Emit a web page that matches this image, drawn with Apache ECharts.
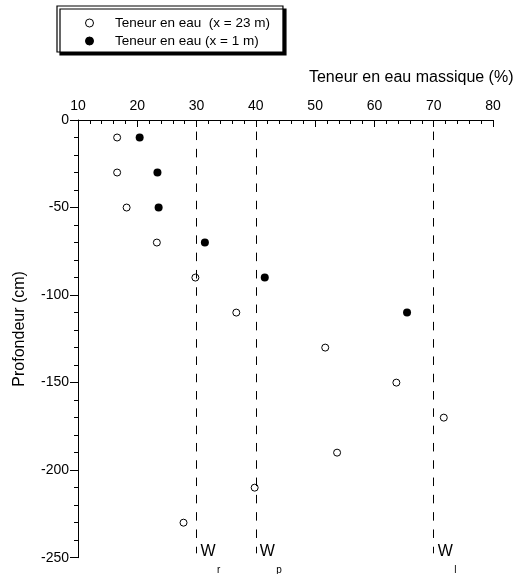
<!DOCTYPE html>
<html>
<head>
<meta charset="utf-8">
<script src="https://cdn.jsdelivr.net/npm/echarts@6/dist/echarts.min.js"></script>
<style>
  html, body { margin: 0; padding: 0; background: #fff; }
  #chart { width: 518px; height: 574px; }
</style>
</head>
<body>
<div id="chart"></div>
<script>
// Gravimetric water content profiles versus depth at two distances
const depthsFar = [-10, -30, -50, -70, -90, -110, -130, -150, -170, -190, -210, -230];
const waterFar = [16.6, 16.6, 18.2, 23.3, 29.8, 36.7, 51.7, 63.7, 71.7, 53.7, 39.8, 27.8];
const depthsNear = [-10, -30, -50, -70, -90, -110];
const waterNear = [20.4, 23.4, 23.6, 31.4, 41.5, 65.5];
const seriesNames = ['Teneur en eau  (x = 23 m)', 'Teneur en eau (x = 1 m)'];

// Consistency limits drawn as dashed verticals: Wr, Wp, Wl
const limitValues = [30, 40, 70];
const limitSubscripts = ['r', 'p', 'l'];
const limitDepthRange = [-6.6, -247.5];

// Axis tick values
const xTickValues = [10, 20, 30, 40, 50, 60, 70, 80];
const yTickValues = [0, -50, -100, -150, -200, -250];

const FONT = '"Liberation Sans", Arial, Helvetica, sans-serif';

const chart = echarts.init(document.getElementById('chart'), null, { renderer: 'canvas' });

const pairs = (xs, ys) => xs.map((x, i) => [x, ys[i]]);

chart.setOption({
  animation: false,
  backgroundColor: '#fff',
  grid: { left: 78, top: 120, right: 25, bottom: 16.3 },
  legend: {
    data: seriesNames,
    orient: 'vertical',
    left: 57,
    top: 6,
    padding: [10, 13, 4, 28],
    itemWidth: 41,
    itemHeight: 8,
    itemGap: 4,
    itemStyle: { borderWidth: 1 },
    backgroundColor: '#fff',
    borderColor: '#000',
    borderWidth: 1.2,
    shadowColor: '#000',
    shadowOffsetX: 3,
    shadowOffsetY: 3,
    shadowBlur: 0,
    selectedMode: false,
    textStyle: { fontFamily: FONT, fontSize: 13.5, color: '#000' }
  },
  xAxis: {
    type: 'value',
    position: 'top',
    min: xTickValues[0],
    max: xTickValues[xTickValues.length - 1],
    interval: xTickValues[1] - xTickValues[0],
    name: 'Teneur en eau massique (%)',
    nameLocation: 'end',
    nameGap: 20.5,
    nameTextStyle: {
      fontFamily: FONT, fontSize: 16, color: '#000',
      align: 'right', verticalAlign: 'bottom', padding: [0, 0, 34, 0]
    },
    axisLine: { show: true, lineStyle: { color: '#000', width: 1 } },
    axisTick: { show: true, inside: true, length: 7, lineStyle: { color: '#000' } },
    minorTick: { show: true, splitNumber: 5, length: 4, lineStyle: { color: '#000' } },
    axisLabel: { fontFamily: FONT, fontSize: 14, color: '#000', margin: 7 },
    splitLine: { show: false },
    minorSplitLine: { show: false }
  },
  yAxis: {
    type: 'value',
    min: yTickValues[yTickValues.length - 1],
    max: yTickValues[0],
    interval: yTickValues[0] - yTickValues[1],
    name: 'Profondeur (cm)',
    nameLocation: 'middle',
    nameGap: 50,
    nameTextStyle: { fontFamily: FONT, fontSize: 16, color: '#000', padding: [0, 0, 0, 20] },
    axisLine: { show: true, lineStyle: { color: '#000', width: 1 } },
    axisTick: { show: true, inside: false, length: 8, lineStyle: { color: '#000' } },
    minorTick: { show: true, splitNumber: 5, length: 4, lineStyle: { color: '#000' } },
    axisLabel: { fontFamily: FONT, fontSize: 14, color: '#000', margin: 9 },
    splitLine: { show: false },
    minorSplitLine: { show: false }
  },
  series: [
    {
      name: seriesNames[0],
      type: 'scatter',
      symbol: 'circle',
      symbolSize: 7,
      itemStyle: { color: '#fff', borderColor: '#000', borderWidth: 1, opacity: 1 },
      data: pairs(waterFar, depthsFar),
      z: 3
    },
    {
      name: seriesNames[1],
      type: 'scatter',
      symbol: 'circle',
      symbolSize: 8,
      itemStyle: { color: '#000', borderColor: '#000', borderWidth: 0, opacity: 1 },
      data: pairs(waterNear, depthsNear),
      z: 3
    },
    {
      name: 'limits',
      type: 'line',
      data: [],
      silent: true,
      markLine: {
        silent: true,
        animation: false,
        symbol: ['none', 'none'],
        label: { show: false },
        lineStyle: { color: '#000', width: 1, type: [8.5, 8.8] },
        data: limitValues.map(v => [
          { coord: [v, limitDepthRange[0]] },
          { coord: [v, limitDepthRange[1]] }
        ])
      },
      z: 2
    }
  ]
});

// Limit labels (W with subscript) placed just right of each dashed line's foot
const yBottom = yTickValues[yTickValues.length - 1];
const labelGraphics = [];
limitValues.forEach((v, i) => {
  const p = chart.convertToPixel({ gridIndex: 0 }, [v, yBottom]);
  labelGraphics.push({
    type: 'text', x: p[0] + 4, y: p[1] - 6, silent: true,
    style: { text: 'W', font: '16px ' + FONT, fill: '#000', align: 'left', verticalAlign: 'middle' }
  });
  labelGraphics.push({
    type: 'text', x: p[0] + 20.5, y: p[1] + 13, silent: true,
    style: { text: limitSubscripts[i], font: '10px ' + FONT, fill: '#000', align: 'left', verticalAlign: 'middle' }
  });
});
chart.setOption({ graphic: labelGraphics });
</script>
</body>
</html>
